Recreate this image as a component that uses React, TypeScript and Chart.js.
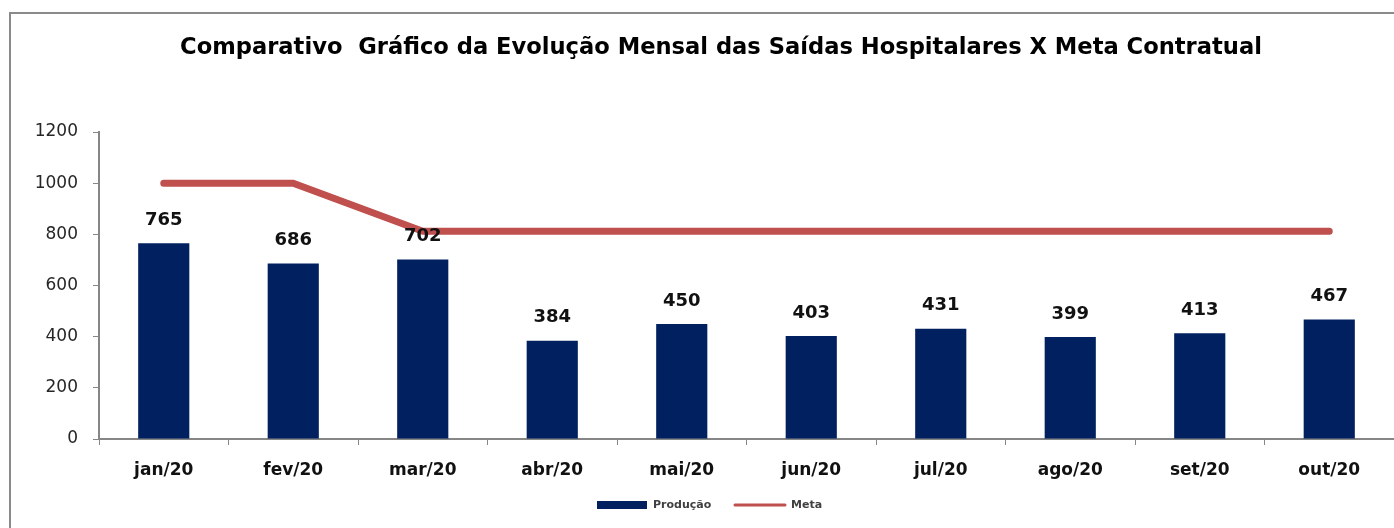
import React, { useEffect, useRef } from "react";
import { Chart, registerables } from "chart.js";

Chart.register(...registerables);

const categories = ["jan/20", "fev/20", "mar/20", "abr/20", "mai/20", "jun/20", "jul/20", "ago/20", "set/20", "out/20"];
const producao = [765, 686, 702, 384, 450, 403, 431, 399, 413, 467];
const metaValues = [1000, 1000, 812, 812, 812, 812, 812, 812, 812, 812];
const yTickValues = [0, 200, 400, 600, 800, 1000, 1200];
const titleText = "Comparativo  Gráfico da Evolução Mensal das Saídas Hospitalares X Meta Contratual";
const legendLabels = ["Produção", "Meta"];

const BAR_COLOR = "#002060";
const LINE_COLOR = "#C0504D";
const AXIS_COLOR = "#868686";
const FONT = "'DejaVu Sans', 'Open Sans', sans-serif";

export default function App() {
  const ref = useRef<HTMLCanvasElement | null>(null);

  useEffect(() => {
    if (!ref.current) return;

    const framePlugin = {
      id: "frame",
      beforeDraw(chart: any) {
        const ctx = chart.ctx;
        ctx.save();
        ctx.fillStyle = "#ffffff";
        ctx.fillRect(0, 0, chart.width, chart.height);
        ctx.strokeStyle = "#8a8a8a";
        ctx.lineWidth = 2;
        ctx.strokeRect(10, 13, chart.width + 20, chart.height + 20);
        ctx.restore();
      },
      afterDraw(chart: any) {
        const ctx = chart.ctx;
        ctx.save();
        const targetWidth = 1082;
        ctx.font = `bold 20px ${FONT}`;
        const w = ctx.measureText(titleText).width;
        const size = Math.min(24, (20 * targetWidth) / w);
        ctx.font = `bold ${size.toFixed(2)}px ${FONT}`;
        ctx.fillStyle = "#000000";
        ctx.textAlign = "center";
        ctx.textBaseline = "middle";
        ctx.fillText(titleText, 721, 48);

        ctx.font = `bold 11px ${FONT}`;
        ctx.textAlign = "left";
        ctx.fillStyle = BAR_COLOR;
        ctx.fillRect(597, 501, 50, 8);
        ctx.fillStyle = "#404040";
        ctx.fillText(legendLabels[0], 653, 505);
        ctx.strokeStyle = LINE_COLOR;
        ctx.lineWidth = 3;
        ctx.lineCap = "round";
        ctx.beginPath();
        ctx.moveTo(735, 505);
        ctx.lineTo(785, 505);
        ctx.stroke();
        ctx.fillText(legendLabels[1], 791, 505);
        ctx.restore();
      },
    };

    const labelsPlugin = {
      id: "barLabels",
      afterDatasetsDraw(chart: any) {
        const ctx = chart.ctx;
        const meta = chart.getDatasetMeta(0);
        ctx.save();
        ctx.font = `bold 18px ${FONT}`;
        ctx.fillStyle = "#111111";
        ctx.textAlign = "center";
        ctx.textBaseline = "middle";
        meta.data.forEach((el: any, i: number) => {
          ctx.fillText(String(producao[i]), el.x, el.y - 23);
        });
        ctx.restore();
      },
    };

    const chart = new Chart(ref.current, {
      type: "bar",
      data: {
        labels: categories,
        datasets: [
          {
            type: "bar",
            label: legendLabels[0],
            data: producao,
            backgroundColor: BAR_COLOR,
            categoryPercentage: 1,
            barPercentage: 0.395,
            order: 1,
          },
          {
            type: "line",
            label: legendLabels[1],
            data: metaValues,
            borderColor: LINE_COLOR,
            backgroundColor: LINE_COLOR,
            borderWidth: 7,
            borderCapStyle: "round",
            borderJoinStyle: "round",
            pointRadius: 0,
            tension: 0,
            order: 0,
          },
        ],
      } as any,
      plugins: [framePlugin, labelsPlugin],
      options: {
        animation: false,
        responsive: false,
        layout: { padding: { top: 132, left: 0, right: 0, bottom: 0 } },
        plugins: {
          legend: { display: false },
          title: { display: false },
          tooltip: { enabled: false },
        },
        scales: {
          x: {
            grid: {
              display: true,
              drawOnChartArea: false,
              drawTicks: true,
              tickLength: 6,
              color: AXIS_COLOR,
              offset: true,
            },
            border: { display: true, color: AXIS_COLOR, width: 2 },
            ticks: {
              color: "#111111",
              font: { family: FONT, size: 17, weight: "bold" },
              padding: 15,
              maxRotation: 0,
            },
            afterFit(scale: any) {
              scale.height = 89;
            },
          },
          y: {
            min: 0,
            max: 1200,
            afterBuildTicks(scale: any) {
              scale.ticks = yTickValues.map((v) => ({ value: v }));
            },
            grid: {
              display: true,
              drawOnChartArea: false,
              drawTicks: true,
              tickLength: 6,
              color: AXIS_COLOR,
            },
            border: { display: true, color: AXIS_COLOR, width: 2 },
            ticks: {
              color: "#262626",
              font: { family: FONT, size: 17 },
              padding: 15,
              callback: (v: any) => String(v),
            },
            afterFit(scale: any) {
              scale.width = 99;
            },
          },
        },
      } as any,
    });

    return () => chart.destroy();
  }, []);

  return (
    <div style={{ position: "fixed", left: 0, top: 0, width: 1394, height: 528, background: "#fff" }}>
      <canvas ref={ref} width={1394} height={528} />
    </div>
  );
}
